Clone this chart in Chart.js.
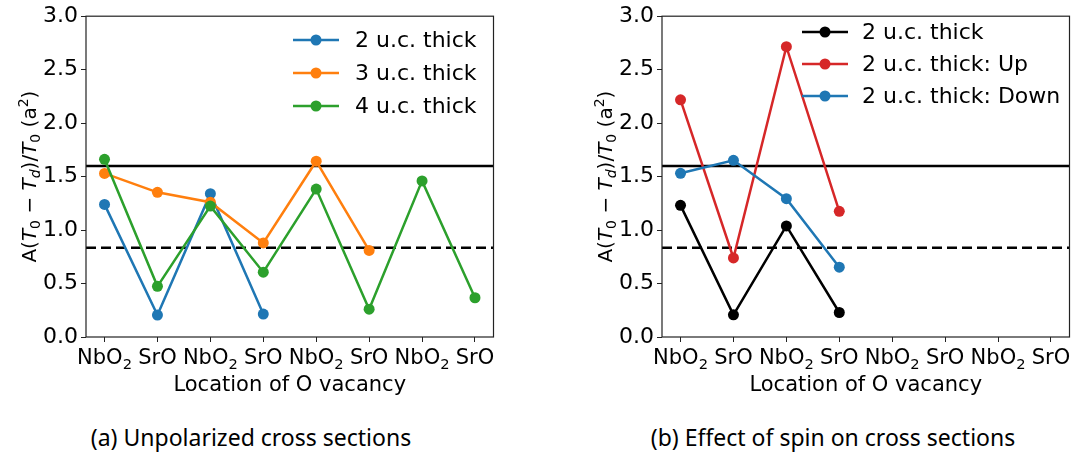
<!DOCTYPE html>
<html>
<head>
<meta charset="utf-8">
<script src="https://cdn.jsdelivr.net/npm/chart.js@4.4.1/dist/chart.umd.min.js"></script>
<style>
  body { margin: 0; background: #fff; width: 1075px; height: 457px; position: relative; overflow: hidden; }
  .panel { position: absolute; top: 0; }
  .caption { position: absolute; top: 423px; font-family: "Noto Sans", sans-serif; font-size: 23px; line-height: 28px;
             color: #000; white-space: nowrap; transform: translateX(-50%); }
</style>
</head>
<body>
<canvas id="unpolarized" class="panel" width="499" height="400" style="left:0"></canvas>
<canvas id="spin" class="panel" width="499" height="400" style="left:576px"></canvas>
<div class="caption" style="left:251px">(a) Unpolarized cross sections</div>
<div class="caption" style="left:833px">(b) Effect of spin on cross sections</div>

<script>
// vacancy sites along the slab
const siteLabels = ['NbO₂', 'SrO', 'NbO₂', 'SrO', 'NbO₂', 'SrO', 'NbO₂', 'SrO'];

// unpolarized cross sections
const thick2 = [1.24, 0.205, 1.34, 0.214];
const thick3 = [1.53, 1.353, 1.26, 0.88, 1.644, 0.81];
const thick4 = [1.662, 0.474, 1.224, 0.606, 1.383, 0.26, 1.46, 0.367];

// spin resolved, 2 u.c.
const spinTotal = [1.231, 0.207, 1.039, 0.229];
const spinUp = [2.218, 0.739, 2.715, 1.175];
const spinDown = [1.531, 1.652, 1.293, 0.653];

// reference levels
const solidRef = 1.6;
const dashedRef = 0.835;

const yTicks = [0, 0.5, 1, 1.5, 2, 2.5, 3];

const FONT = '"DejaVu Sans", sans-serif';
const X_MIN = -0.35, X_MAX = siteLabels.length - 1 + 0.35;

function points(values) {
    return values.map((v, i) => ({ x: i, y: v }));
}

function series(label, values, color, order) {
    return {
        label: label,
        data: points(values),
        borderColor: color,
        backgroundColor: color,
        borderWidth: 2.5,
        pointRadius: 5.5,
        pointHoverRadius: 5.5,
        pointBorderWidth: 0,
        order: order
    };
}

function refLine(value, dash) {
    return {
        label: '',
        data: [{ x: X_MIN, y: value }, { x: X_MAX, y: value }],
        borderColor: '#000',
        borderWidth: 2.5,
        borderDash: dash,
        pointRadius: 0,
        order: 10
    };
}

// draw a run of text parts (italic / subscript / superscript) starting at x
function richWidth(ctx, parts, size) {
    let w = 0;
    parts.forEach(p => { ctx.font = partFont(p, size); w += ctx.measureText(p.t).width; });
    return w;
}

function partFont(p, size) {
    return (p.it ? 'italic ' : '') + ((p.sub || p.sup) ? size * 0.7 : size) + 'px ' + FONT;
}

function drawRich(ctx, parts, size, x, y) {
    parts.forEach(p => {
        ctx.font = partFont(p, size);
        const dy = p.sub ? size * 0.22 : (p.sup ? -size * 0.42 : 0);
        ctx.fillText(p.t, x, y + dy);
        x += ctx.measureText(p.t).width;
    });
}

// 'NbO₂' -> NbO with a subscript 2
function splitSub(label) {
    const subs = { '₀': '0', '₁': '1', '₂': '2', '₃': '3' };
    const parts = [];
    for (const ch of label) {
        if (subs[ch]) parts.push({ t: subs[ch], sub: true });
        else if (parts.length && !parts[parts.length - 1].sub) parts[parts.length - 1].t += ch;
        else parts.push({ t: ch });
    }
    return parts;
}

// x tick labels with real subscripts
const siteTicks = {
    id: 'siteTicks',
    afterDraw(chart) {
        const ctx = chart.ctx;
        const xs = chart.scales.x;
        const size = 21;
        ctx.save();
        ctx.fillStyle = '#000';
        ctx.textBaseline = 'alphabetic';
        siteLabels.forEach((lab, i) => {
            const parts = splitSub(lab);
            const w = richWidth(ctx, parts, size);
            drawRich(ctx, parts, size, xs.getPixelForValue(i) - w / 2, chart.chartArea.bottom + 27);
        });
        ctx.restore();
    }
};

// legend in matplotlib style: short line with a marker, then the label
const lineLegend = {
    id: 'lineLegend',
    afterDatasetsDraw(chart, args, opts) {
        const ctx = chart.ctx;
        ctx.save();
        ctx.font = '22px ' + FONT;
        ctx.textBaseline = 'middle';
        const items = chart.data.datasets.filter(d => d.label);
        items.forEach((d, i) => {
            const y = opts.y + i * opts.gap;
            ctx.strokeStyle = d.borderColor;
            ctx.lineWidth = 2.5;
            ctx.beginPath();
            ctx.moveTo(opts.x, y);
            ctx.lineTo(opts.x + 46, y);
            ctx.stroke();
            ctx.fillStyle = d.borderColor;
            ctx.beginPath();
            ctx.arc(opts.x + 23, y, 5.5, 0, Math.PI * 2);
            ctx.fill();
            ctx.fillStyle = '#000';
            ctx.fillText(d.label, opts.x + opts.textGap, y + 1);
        });
        ctx.restore();
    }
};

// box round the plot area
const frame = {
    id: 'frame',
    afterDatasetsDraw(chart) {
        const { left, top, right, bottom } = chart.chartArea;
        const ctx = chart.ctx;
        ctx.save();
        ctx.strokeStyle = '#222';
        ctx.lineWidth = 1.2;
        ctx.strokeRect(left, top, right - left, bottom - top);
        ctx.restore();
    }
};

// rotated y label  A(T0 − Td)/T0 (a²)
const yLabel = [
    { t: 'A(' }, { t: 'T', it: true }, { t: '0', sub: true }, { t: ' − ' },
    { t: 'T', it: true }, { t: 'd', it: true, sub: true }, { t: ')/' },
    { t: 'T', it: true }, { t: '0', sub: true }, { t: ' (a' }, { t: '2', sup: true }, { t: ')' }
];

const mathTitle = {
    id: 'mathTitle',
    afterDraw(chart, args, opts) {
        const ctx = chart.ctx;
        const size = 20;
        ctx.save();
        const total = richWidth(ctx, yLabel, size);
        const { top, bottom } = chart.chartArea;
        ctx.translate(opts.x, (top + bottom) / 2);
        ctx.rotate(-Math.PI / 2);
        ctx.fillStyle = '#000';
        ctx.textBaseline = 'alphabetic';
        drawRich(ctx, yLabel, size, -total / 2, 0);
        ctx.restore();
    }
};

function makeChart(id, datasets, legendPos) {
    return new Chart(document.getElementById(id), {
        type: 'line',
        data: { datasets: datasets },
        options: {
            responsive: false,
            animation: false,
            devicePixelRatio: 1,
            layout: { padding: { top: 12, right: 5, left: 0, bottom: 0 } },
            scales: {
                x: {
                    type: 'linear',
                    min: X_MIN,
                    max: X_MAX,
                    afterBuildTicks: s => { s.ticks = siteLabels.map((_, i) => ({ value: i })); },
                    afterFit: s => { s.height = 63; },
                    grid: { drawOnChartArea: false, drawTicks: true, tickLength: 5, color: '#222' },
                    border: { display: false },
                    ticks: { display: false },
                    title: {
                        display: true, text: 'Location of O vacancy', color: '#000',
                        font: { family: FONT, size: 21 }, padding: { top: 0, bottom: 2 }
                    }
                },
                y: {
                    min: 0,
                    max: 3,
                    afterBuildTicks: s => { s.ticks = yTicks.map(v => ({ value: v })); },
                    afterFit: s => { s.width = 86; },
                    grid: { drawOnChartArea: false, drawTicks: true, tickLength: 5, color: '#222' },
                    border: { display: false },
                    ticks: {
                        padding: 3, color: '#000',
                        font: { family: FONT, size: 22 },
                        callback: v => v.toFixed(1)
                    }
                }
            },
            plugins: {
                legend: { display: false },
                tooltip: { enabled: false },
                lineLegend: legendPos,
                mathTitle: { x: 36 }
            }
        },
        plugins: [lineLegend, frame, mathTitle, siteTicks]
    });
}

makeChart('unpolarized', [
    series('2 u.c. thick', thick2, '#1f77b4', 3),
    series('3 u.c. thick', thick3, '#ff7f0e', 2),
    series('4 u.c. thick', thick4, '#2ca02c', 1),
    refLine(solidRef, []),
    refLine(dashedRef, [10, 5])
], { x: 293, y: 40, gap: 33, textGap: 62 });

makeChart('spin', [
    series('2 u.c. thick', spinTotal, '#000000', 3),
    series('2 u.c. thick: Up', spinUp, '#d62728', 2),
    series('2 u.c. thick: Down', spinDown, '#1f77b4', 1),
    refLine(solidRef, []),
    refLine(dashedRef, [10, 5])
], { x: 226, y: 32, gap: 32, textGap: 60 });
</script>
</body>
</html>
